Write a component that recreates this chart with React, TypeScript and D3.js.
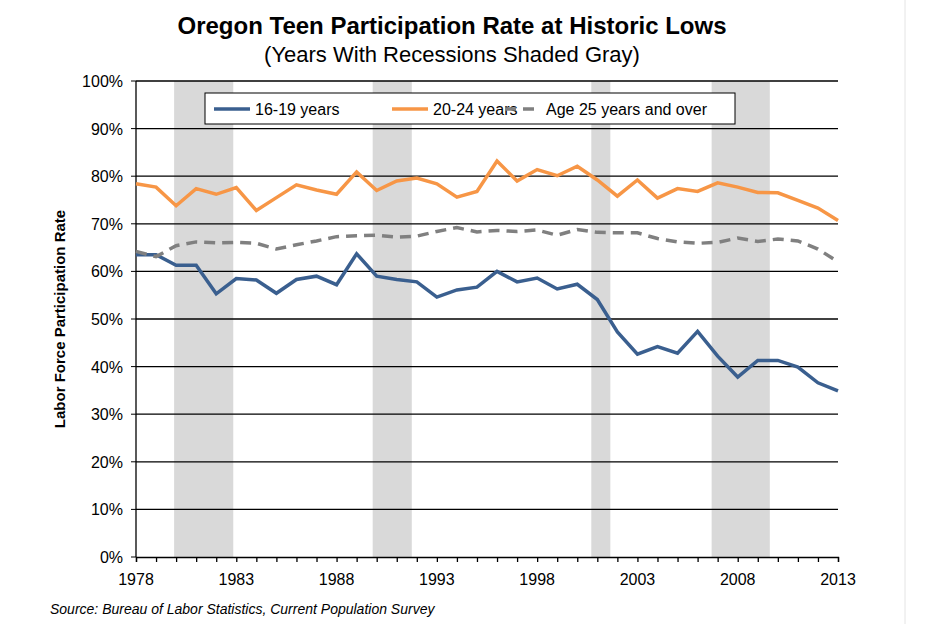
import { useEffect, useRef } from 'react';
import * as d3 from 'd3';

const years = d3.range(1978, 2014);
const teen = [63.5, 63.5, 61.3, 61.3, 55.3, 58.5, 58.2, 55.4, 58.3, 59, 57.2, 63.7, 59, 58.3, 57.8, 54.6, 56.1, 56.7, 60, 57.8, 58.6, 56.3, 57.3, 54.1, 47.3, 42.6, 44.2, 42.8, 47.4, 42.2, 37.8, 41.3, 41.3, 39.9, 36.6, 34.9];
const young = [78.4, 77.7, 73.8, 77.4, 76.2, 77.6, 72.8, 75.5, 78.2, 77.1, 76.2, 80.9, 77, 79, 79.6, 78.4, 75.6, 76.8, 83.2, 79, 81.4, 80.1, 82.1, 79.2, 75.8, 79.2, 75.4, 77.4, 76.8, 78.6, 77.7, 76.6, 76.5, 74.9, 73.3, 70.7];
const adult = [64.2, 63.1, 65.4, 66.2, 66, 66.1, 65.9, 64.7, 65.6, 66.4, 67.3, 67.5, 67.6, 67.2, 67.4, 68.4, 69.2, 68.3, 68.6, 68.4, 68.7, 67.6, 68.8, 68.2, 68.1, 68.1, 66.9, 66.2, 65.9, 66.1, 67, 66.3, 66.8, 66.4, 64.7, 62];
const recessions: [number, number][] = [[1979.9, 1982.85], [1989.8, 1991.75], [2000.7, 2001.65], [2006.7, 2009.6]];
const xTicks = [1978, 1983, 1988, 1993, 1998, 2003, 2008, 2013];
const series = [
  { name: '16-19 years', values: teen, color: '#3A5F8F', dash: '' },
  { name: '20-24 years', values: young, color: '#F79646', dash: '' },
  { name: 'Age 25 years and over', values: adult, color: '#808080', dash: '11 7' },
];

export default function App() {
  const ref = useRef<SVGSVGElement>(null);

  useEffect(() => {
    const svg = d3.select(ref.current);
    svg.selectAll('*').remove();
    const font = 'Arial, "Liberation Sans", sans-serif';

    const x = d3.scaleLinear().domain([1978, 2013]).range([136, 838]);
    const y = d3.scaleLinear().domain([0, 100]).range([557, 81]);

    svg.append('line').attr('x1', 905).attr('x2', 905).attr('y1', 0).attr('y2', 624)
      .attr('stroke', '#e4e4e4');

    svg.selectAll('.rec').data(recessions).enter().append('rect')
      .attr('x', d => x(d[0])).attr('width', d => x(d[1]) - x(d[0]))
      .attr('y', y(100)).attr('height', y(0) - y(100)).attr('fill', '#d9d9d9');

    const ticks = d3.range(0, 101, 10);
    svg.append('g').selectAll('line').data(ticks.filter(t => t > 0)).enter().append('line')
      .attr('x1', x(1978)).attr('x2', x(2013)).attr('y1', d => y(d)).attr('y2', d => y(d))
      .attr('stroke', '#000').attr('stroke-width', 1.3);

    svg.append('g').selectAll('text').data(ticks).enter().append('text')
      .attr('x', 123).attr('y', d => y(d) + 6).attr('text-anchor', 'end')
      .attr('font-family', font).attr('font-size', 16).text(d => d + '%');
    svg.append('g').selectAll('line').data(ticks).enter().append('line')
      .attr('x1', x(1978) - 5).attr('x2', x(1978)).attr('y1', d => y(d)).attr('y2', d => y(d))
      .attr('stroke', '#000');

    svg.append('g').attr('transform', `translate(0,${y(0)})`)
      .call(d3.axisBottom(x).tickValues(years).tickSize(5).tickFormat(() => ''))
      .call(g => g.selectAll('line,path').attr('stroke', '#000').attr('stroke-width', 1.3));
    svg.append('g').selectAll('text').data(xTicks).enter().append('text')
      .attr('x', d => x(d)).attr('y', 585).attr('text-anchor', 'middle')
      .attr('font-family', font).attr('font-size', 16).text(d => d);
    svg.append('line').attr('x1', x(1978)).attr('x2', x(1978)).attr('y1', y(0)).attr('y2', y(100))
      .attr('stroke', '#000').attr('stroke-width', 1.3);

    const line = d3.line<number>().x((_, i) => x(years[i])).y(d => y(d));
    series.forEach(s => {
      svg.append('path').datum(s.values).attr('d', line).attr('fill', 'none')
        .attr('stroke', s.color).attr('stroke-width', 3.5).attr('stroke-dasharray', s.dash || null);
    });

    const lg = svg.append('g');
    lg.append('rect').attr('x', 205).attr('y', 93).attr('width', 530).attr('height', 31)
      .attr('fill', '#fff').attr('stroke', '#000');
    const lx = [214, 392, 505];
    series.forEach((s, i) => {
      lg.append('line').attr('x1', lx[i]).attr('x2', lx[i] + 36).attr('y1', 109).attr('y2', 109)
        .attr('stroke', s.color).attr('stroke-width', 3.5).attr('stroke-dasharray', s.dash || null);
      lg.append('text').attr('x', lx[i] + 41).attr('y', 115).attr('font-family', font)
        .attr('font-size', 16).text(s.name);
    });

    svg.append('text').attr('x', 452).attr('y', 34).attr('text-anchor', 'middle')
      .attr('font-family', font).attr('font-size', 24).attr('font-weight', 'bold')
      .text('Oregon Teen Participation Rate at Historic Lows');
    svg.append('text').attr('x', 452).attr('y', 62).attr('text-anchor', 'middle')
      .attr('font-family', font).attr('font-size', 22)
      .text('(Years With Recessions Shaded Gray)');
    svg.append('text').attr('transform', 'translate(65,319) rotate(-90)').attr('text-anchor', 'middle')
      .attr('font-family', font).attr('font-size', 15).attr('font-weight', 'bold')
      .text('Labor Force Participation Rate');
    svg.append('text').attr('x', 50).attr('y', 614).attr('font-family', font)
      .attr('font-size', 14).attr('font-style', 'italic')
      .text('Source: Bureau of Labor Statistics, Current Population Survey');
  }, []);

  return (
    <svg ref={ref} width={940} height={624}
      style={{ position: 'absolute', left: 0, top: 0, background: '#fff' }} />
  );
}
